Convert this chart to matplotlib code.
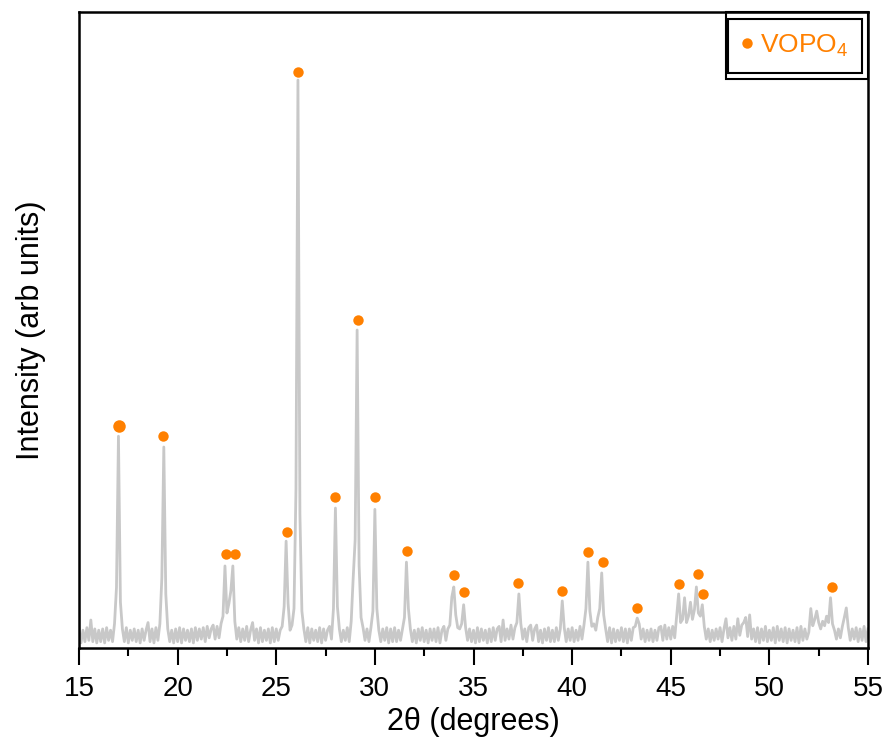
import numpy as np
import matplotlib
matplotlib.use("Agg")
import matplotlib.pyplot as plt
from matplotlib.patches import Rectangle

plt.rcParams['font.family'] = ['Liberation Sans', 'DejaVu Sans']
plt.rcParams['mathtext.default'] = 'regular'

# 2theta grid, 0.1 degree steps from 15.0 to 55.0
two_theta_start = 15.0
two_theta_step = 0.1

# Intensity (arb. units), one row per degree (x.0 ... x.9)
intensity = [
    30, 8, 28, 10, 32, 12, 44, 10, 30, 8,        # 15
    28, 10, 30, 8, 32, 12, 28, 10, 38, 95,       # 16
    333, 72, 30, 10, 32, 8, 28, 12, 30, 10,      # 17
    28, 8, 30, 12, 28, 40, 10, 30, 8, 32,        # 18
    12, 38, 110, 316, 85, 30, 10, 28, 8, 30,     # 19
    10, 32, 8, 30, 12, 28, 10, 30, 8, 32,        # 20
    12, 30, 14, 32, 10, 34, 16, 30, 36, 14,      # 21
    34, 16, 38, 50, 129, 55, 70, 90, 129, 42,    # 22
    14, 32, 10, 30, 12, 34, 10, 28, 40, 12,      # 23
    30, 8, 32, 10, 28, 12, 30, 8, 32, 10,        # 24
    30, 12, 28, 34, 65, 168, 70, 28, 36, 62,     # 25
    250, 893, 210, 58, 30, 10, 32, 8, 30, 12,    # 26
    28, 10, 32, 8, 30, 12, 28, 34, 14, 62,       # 27
    220, 65, 30, 10, 28, 12, 32, 10, 42, 110,    # 28
    170, 500, 130, 48, 32, 12, 30, 10, 32, 58,   # 29
    218, 62, 28, 10, 30, 12, 32, 8, 30, 10,      # 30
    32, 10, 28, 12, 30, 48, 135, 62, 30, 10,     # 31
    28, 8, 30, 12, 32, 10, 28, 8, 30, 12,        # 32
    30, 10, 32, 8, 28, 34, 12, 30, 36, 80,       # 33
    96, 52, 32, 30, 38, 68, 32, 12, 30, 10,      # 34
    28, 8, 32, 10, 30, 12, 28, 8, 30, 10,        # 35
    32, 12, 30, 34, 10, 44, 12, 30, 14, 36,      # 36
    14, 32, 40, 85, 38, 14, 30, 10, 32, 36,      # 37
    12, 30, 36, 10, 28, 8, 30, 12, 32, 10,       # 38
    28, 10, 32, 12, 30, 74, 32, 10, 30, 12,      # 39
    32, 10, 28, 12, 34, 14, 36, 62, 135, 58,     # 40
    34, 38, 28, 48, 62, 118, 52, 30, 10, 32,     # 41
    8, 30, 10, 28, 12, 32, 10, 30, 8, 30,        # 42
    12, 32, 34, 47, 38, 14, 30, 10, 28, 12,      # 43
    30, 10, 28, 12, 32, 34, 12, 36, 14, 32,      # 44
    14, 34, 16, 50, 85, 40, 45, 79, 40, 50,      # 45
    72, 45, 60, 96, 55, 50, 68, 34, 14, 30,      # 46
    10, 28, 12, 30, 14, 32, 10, 30, 46, 16,      # 47
    32, 12, 34, 14, 46, 20, 36, 40, 48, 18,      # 48
    52, 14, 30, 10, 32, 8, 30, 12, 34, 10,       # 49
    28, 12, 32, 8, 34, 12, 30, 10, 32, 8,        # 50
    30, 12, 28, 10, 32, 8, 34, 12, 30, 14,       # 51
    25, 62, 35, 45, 58, 40, 30, 42, 35, 50,      # 52
    40, 79, 38, 28, 14, 30, 16, 34, 48, 63,      # 53
    32, 12, 30, 14, 32, 10, 30, 12, 34, 10,      # 54
    30,                                          # 55.0
]
two_theta = two_theta_start + two_theta_step * np.arange(len(intensity))

# VOPO4 reflections marked with orange dots
vopo4_pos = [17.03, 19.26, 22.45, 22.93, 25.55, 26.1, 27.98, 29.14, 30.0, 31.63,
             34.01, 34.5, 37.26, 39.49, 40.8, 41.57, 43.29, 45.42, 46.38, 46.63, 53.17]
vopo4_dot = [349, 333, 148, 148, 182, 906, 237, 516, 237, 153,
             115, 88, 102, 90, 151, 135, 63, 101, 116, 85, 96]

x_ticks = [15, 20, 25, 30, 35, 40, 45, 50, 55]
orange = '#FF8000'

fig = plt.figure(figsize=(8.86, 7.43), dpi=100)
ax = fig.add_axes([79/886, 1-648/743, 789/886, 636/743])

ax.plot(two_theta, intensity, color='#C8C8C8', lw=2.0, zorder=2)
sizes = [9.0] + [7.5] * (len(vopo4_pos) - 1)
for xp, yp, s in zip(vopo4_pos, vopo4_dot, sizes):
    ax.plot([xp], [yp], 'o', color=orange, ms=s, mec='none', zorder=3)

ax.plot([], [], 'o', color=orange, ms=7.5, mec='none', label='VOPO$_4$')
leg = ax.legend(loc='upper right', bbox_to_anchor=(0.9925, 0.989), frameon=True,
                fancybox=False, edgecolor='black', fontsize=19, handlelength=0.4,
                handletextpad=0.28, borderpad=0.52, borderaxespad=0.0,
                labelcolor=orange)
leg.get_frame().set_linewidth(1.5)
leg.get_frame().set_alpha(1)
ax.add_patch(Rectangle((0.8195, 0.8945), 0.1805, 0.1055, transform=ax.transAxes,
                       fill=False, edgecolor='black', lw=1.5, zorder=5, clip_on=False))

ax.set_xlim(15, 55)
ax.set_ylim(0, 1000)
ax.set_xticks(x_ticks)
ax.set_xticks(np.array(x_ticks[:-1]) + 2.5, minor=True)
ax.set_yticks([])
ax.tick_params(axis='x', which='major', direction='out', length=12, width=1.5,
               labelsize=20, pad=8)
ax.tick_params(axis='x', which='minor', direction='out', length=6, width=1.5)
for sp in ax.spines.values():
    sp.set_linewidth(1.8)

ax.set_xlabel('2θ (degrees)', fontsize=22, labelpad=4)
ax.set_ylabel('Intensity (arb units)', fontsize=22, labelpad=24)

fig.savefig('out.png', dpi=100)
